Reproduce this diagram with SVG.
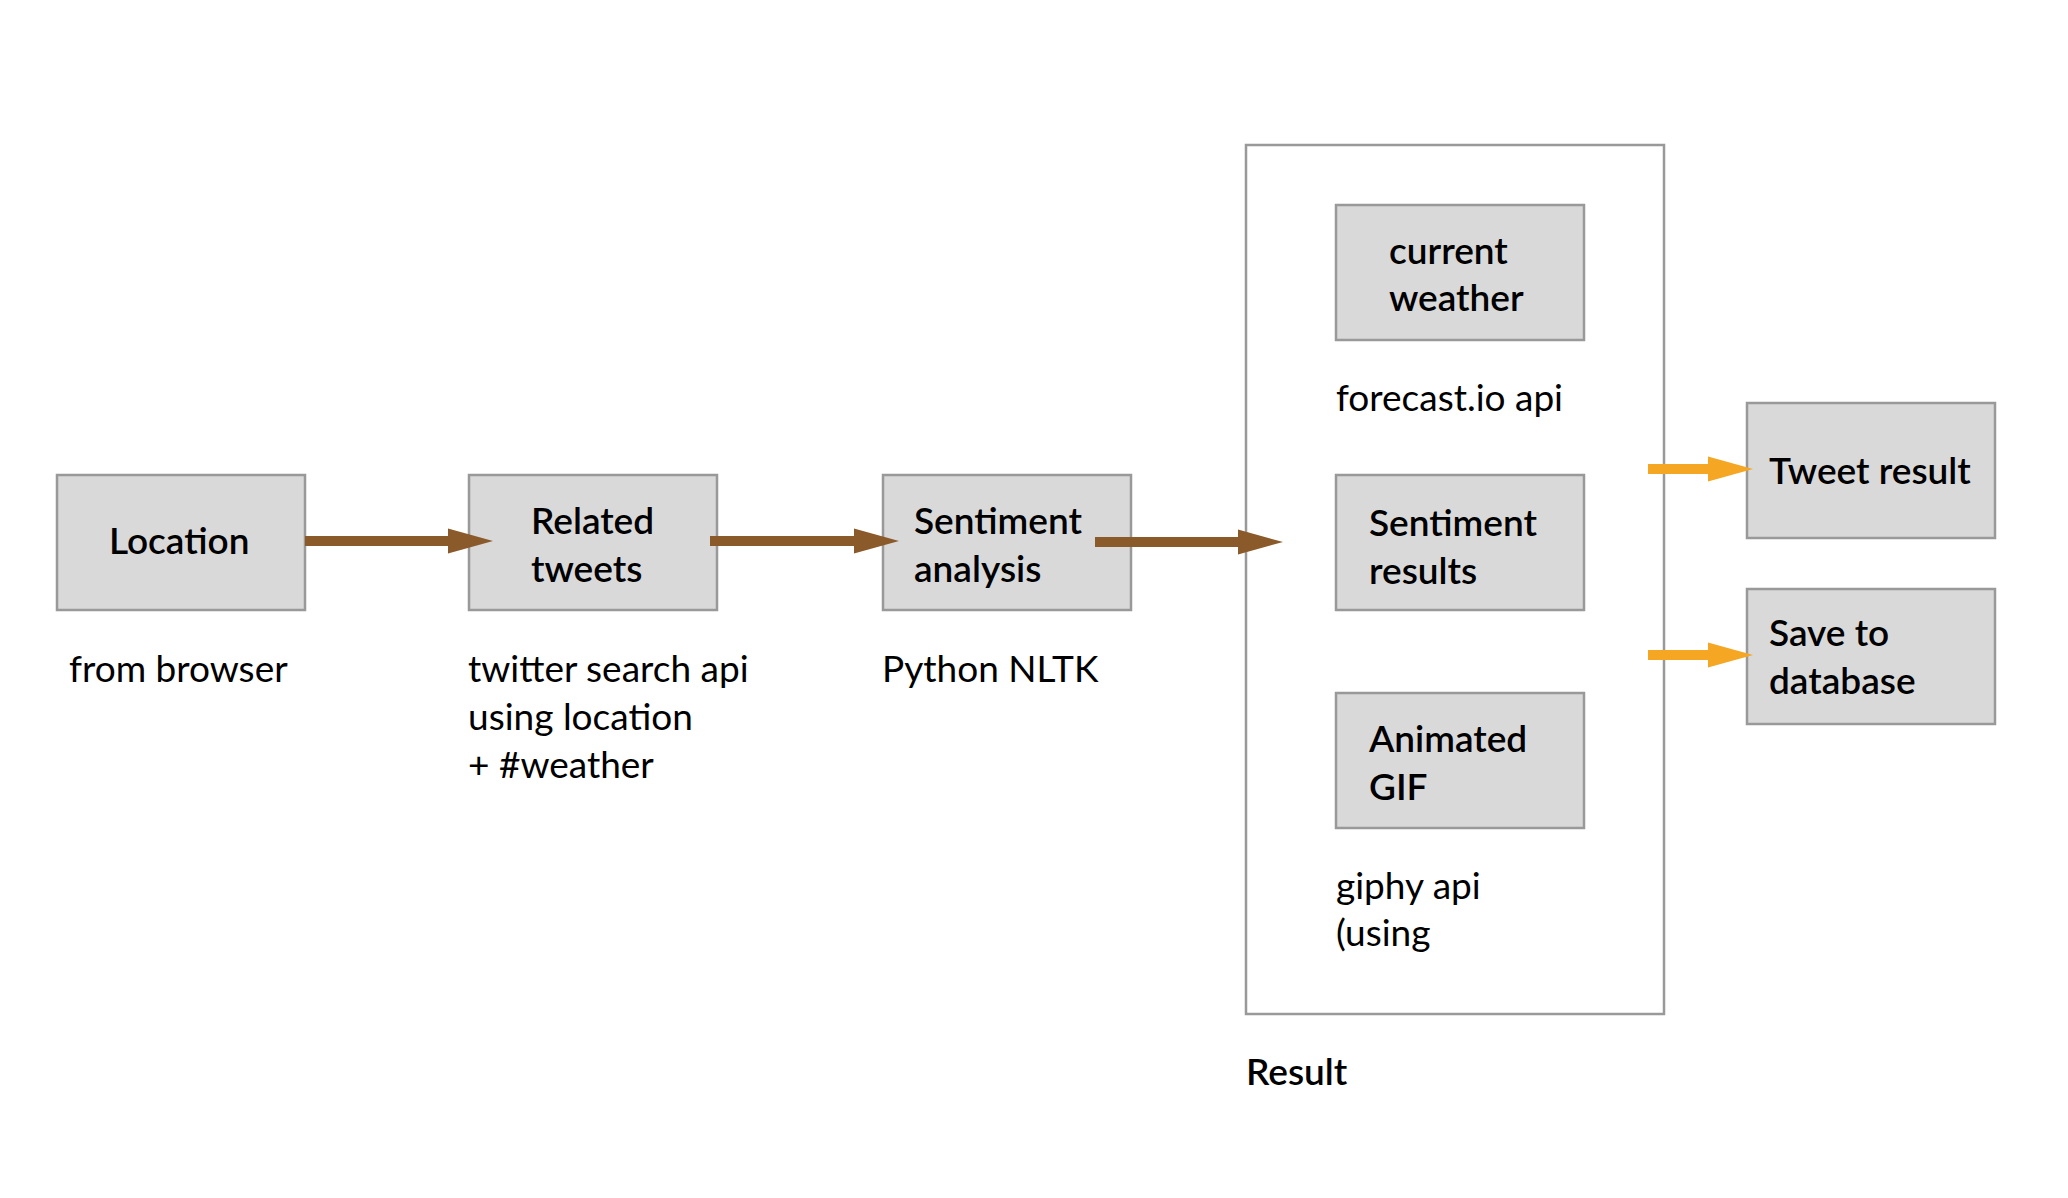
<svg xmlns="http://www.w3.org/2000/svg" width="2068" height="1198" viewBox="0 0 2068 1198">
<style>
.box{fill:#d9d9d9;stroke:#999999;stroke-width:2.5}
.frame{fill:#ffffff;stroke:#999999;stroke-width:2.5}
.b{font-family:Lato,"Open Sans",sans-serif;font-weight:600;font-size:37px;fill:#000}
.n{font-family:Lato,"Open Sans",sans-serif;font-weight:400;font-size:37px;fill:#000}
.brown{stroke:#8b5a2b;stroke-width:10;fill:none}
.orange{stroke:#f5a623;stroke-width:10;fill:none}
.hb{fill:#8b5a2b}
.ho{fill:#f5a623}
</style>
<defs>
<polygon id="head" points="-45,-12.5 0,0 -45,12.5"/>
</defs>
<rect width="2068" height="1198" fill="#ffffff"/>

<g id="result-group">
<rect class="frame" x="1246" y="145" width="418" height="869"/>
<text class="b" x="1246" y="1085">Result</text>
</g>

<g id="location">
<rect class="box" x="57" y="475" width="248" height="135"/>
<text class="b" x="109" y="554">Location</text>
<text class="n" x="69" y="682">from browser</text>
</g>

<g id="related-tweets">
<rect class="box" x="469" y="475" width="248" height="135"/>
<text class="b" x="531" y="534">Related</text>
<text class="b" x="531" y="582">tweets</text>
<text class="n" x="468" y="682">twitter search api</text>
<text class="n" x="468" y="730">using location</text>
<text class="n" x="468" y="778">+ #weather</text>
</g>

<g id="sentiment-analysis">
<rect class="box" x="883" y="475" width="248" height="135"/>
<text class="b" x="914" y="534">Sentiment</text>
<text class="b" x="914" y="582">analysis</text>
<text class="n" x="882" y="682">Python NLTK</text>
</g>

<g id="current-weather">
<rect class="box" x="1336" y="205" width="248" height="135"/>
<text class="b" x="1389" y="264">current</text>
<text class="b" x="1389" y="311">weather</text>
<text class="n" x="1336" y="411">forecast.io api</text>
</g>

<g id="sentiment-results">
<rect class="box" x="1336" y="475" width="248" height="135"/>
<text class="b" x="1369" y="536">Sentiment</text>
<text class="b" x="1369" y="584">results</text>
</g>

<g id="animated-gif">
<rect class="box" x="1336" y="693" width="248" height="135"/>
<text class="b" x="1369" y="752">Animated</text>
<text class="b" x="1369" y="800">GIF</text>
<text class="n" x="1336" y="899">giphy api</text>
<text class="n" x="1336" y="946">(using</text>
</g>

<g id="tweet-result">
<rect class="box" x="1747" y="403" width="248" height="135"/>
<text class="b" x="1769" y="484">Tweet result</text>
</g>

<g id="save-to-database">
<rect class="box" x="1747" y="589" width="248" height="135"/>
<text class="b" x="1769" y="646">Save to</text>
<text class="b" x="1769" y="694">database</text>
</g>

<g id="connectors">
<line class="brown" x1="305" y1="541" x2="450" y2="541"/>
<use href="#head" class="hb" transform="translate(493,541)"/>
<line class="brown" x1="710" y1="541" x2="856" y2="541"/>
<use href="#head" class="hb" transform="translate(899,541)"/>
<line class="brown" x1="1095" y1="542" x2="1240" y2="542"/>
<use href="#head" class="hb" transform="translate(1283,542)"/>
<line class="orange" x1="1648" y1="469" x2="1710" y2="469"/>
<use href="#head" class="ho" transform="translate(1753,469)"/>
<line class="orange" x1="1648" y1="655" x2="1710" y2="655"/>
<use href="#head" class="ho" transform="translate(1753,655)"/>
</g>
</svg>
